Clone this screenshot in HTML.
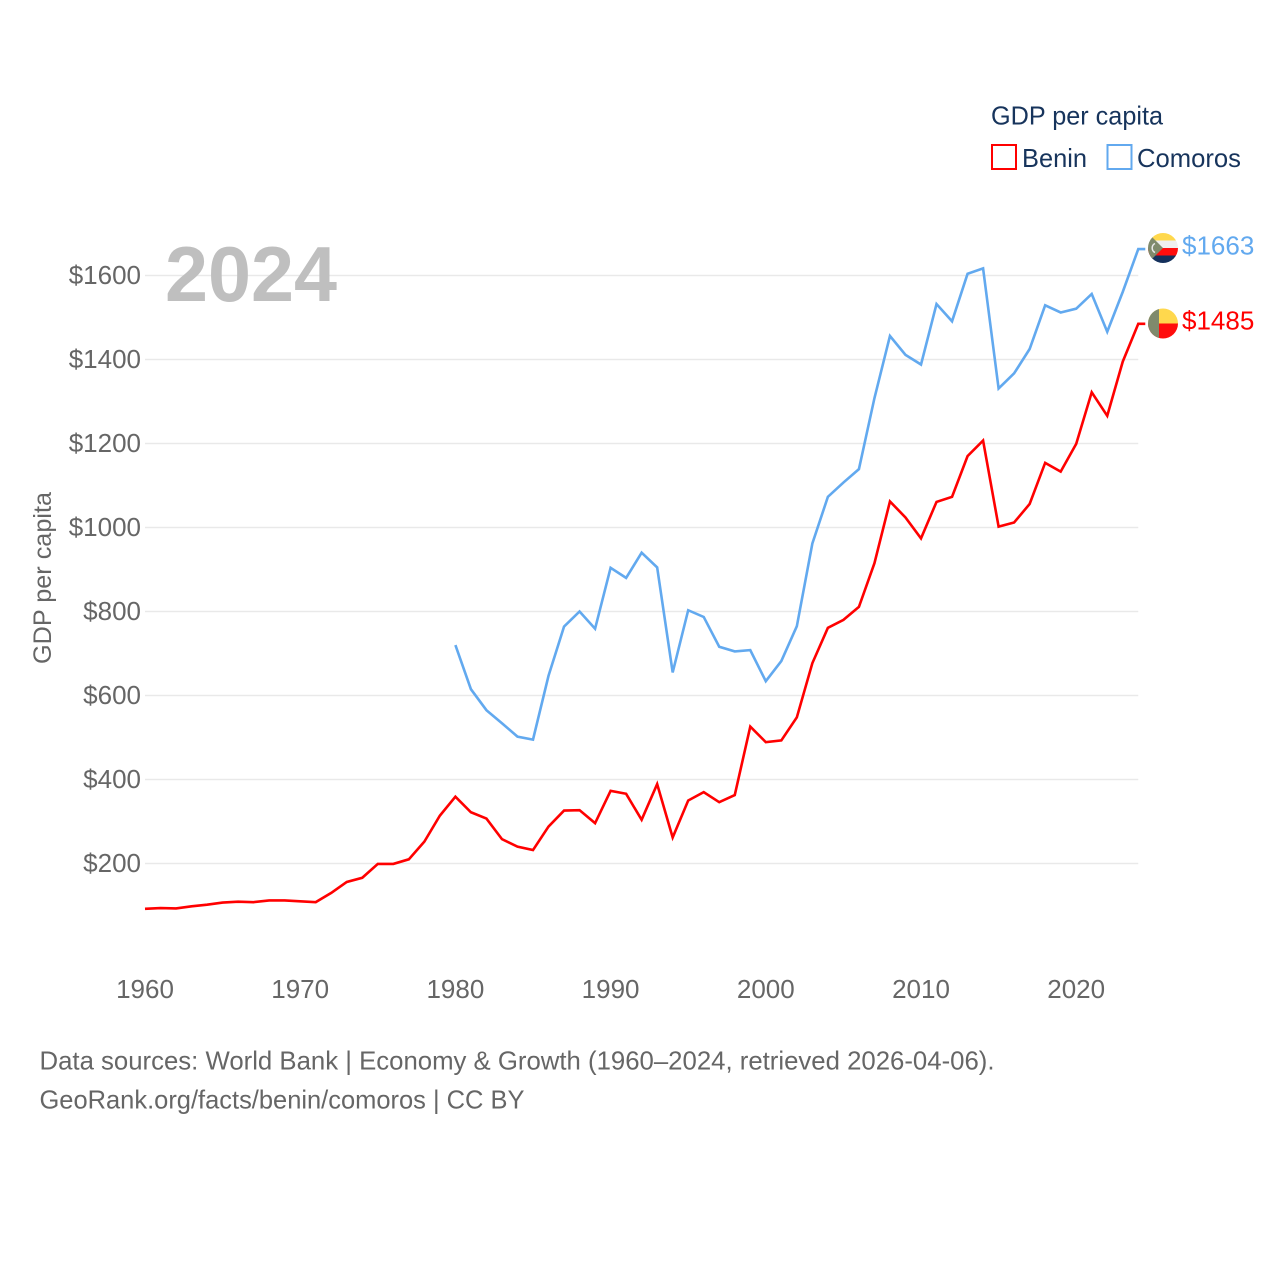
<!DOCTYPE html>
<html lang="en">
<head>
<meta charset="utf-8">
<title>GDP per capita: Benin and Comoros</title>
<style>
  html, body { margin: 0; padding: 0; background: #fff; }
  svg { display: block; }
  text { font-family: "Liberation Sans", sans-serif; }
</style>
</head>
<body>
<svg id="chart" xmlns="http://www.w3.org/2000/svg" width="1280" height="1280" viewBox="0 0 1280 1280">
  <defs>
    <clipPath id="clip-comoros"><circle cx="1163" cy="248" r="15"></circle></clipPath>
    <clipPath id="clip-benin"><circle cx="1163" cy="323.5" r="15"></circle></clipPath>
  </defs>
  <g id="grid"></g>
  <text x="165" y="301" font-size="78" font-weight="700" fill="#bfbfbf" textLength="172" lengthAdjust="spacingAndGlyphs">2024</text>
  <g id="y-ticks"></g>
  <g id="x-ticks"></g>
  <text transform="translate(51,578) rotate(-90)" text-anchor="middle" font-size="25" fill="#666666" textLength="172" lengthAdjust="spacingAndGlyphs">GDP per capita</text>
  <g id="series"></g>

  <g>
    <text x="991" y="124.500" font-size="26" fill="#17345c" textLength="172" lengthAdjust="spacingAndGlyphs">GDP per capita</text>
    <rect x="992" y="145" width="24" height="24" fill="none" stroke="#ff0000" stroke-width="2"></rect>
    <text x="1022" y="167" font-size="26" fill="#17345c" textLength="65" lengthAdjust="spacingAndGlyphs">Benin</text>
    <rect x="1107.500" y="145" width="24" height="24" fill="none" stroke="#62a9ef" stroke-width="2"></rect>
    <text x="1137" y="167" font-size="26" fill="#17345c" textLength="104" lengthAdjust="spacingAndGlyphs">Comoros</text>
  </g>

  <g clip-path="url(#clip-comoros)">
    <rect x="1148" y="233" width="30" height="7.500" fill="#ffd84d"></rect>
    <rect x="1148" y="240.500" width="30" height="7.500" fill="#efefef"></rect>
    <rect x="1148" y="248" width="30" height="7.500" fill="#ff0d0d"></rect>
    <rect x="1148" y="255.500" width="30" height="7.500" fill="#14305c"></rect>
    <polygon points="1148,233 1163,248 1148,263" fill="#7f8a6c"></polygon>
    <path d="M1155,243.500 A5,5 0 0 0 1155,252.500" fill="none" stroke="#e8e8e8" stroke-width="1.500"></path>
  </g>
  <g clip-path="url(#clip-benin)">
    <rect x="1148" y="308.500" width="30" height="15" fill="#ffd84d"></rect>
    <rect x="1148" y="323.500" width="30" height="15" fill="#ff0d0d"></rect>
    <rect x="1148" y="308.500" width="11" height="30" fill="#7f8a6c"></rect>
  </g>

  <text x="1182" y="254.500" font-size="26" fill="#62a9ef">$1663</text>
  <text x="1182" y="329.500" font-size="26" fill="#ff0000">$1485</text>

  <text x="39.500" y="1069.500" font-size="26" fill="#666666" textLength="955" lengthAdjust="spacingAndGlyphs">Data sources: World Bank | Economy &amp; Growth (1960–2024, retrieved 2026-04-06).</text>
  <text x="39.500" y="1108.500" font-size="26" fill="#666666" textLength="485" lengthAdjust="spacingAndGlyphs">GeoRank.org/facts/benin/comoros | CC BY</text>
</svg>
<script>
const beninStartYear = 1960;
const beninValues = [92,94,93,98,102,107,109,108,112,112,110,108,130,156,166,199,199,210,252,314,359,322,307,258,240,232,288,326,327,296,373,366,304,389,262,350,370,346,363,526,489,493,548,677,761,780,811,915,1062,1024,974,1061,1073,1170,1207,1002,1012,1056,1154,1133,1199,1322,1266,1395,1485];
const comorosStartYear = 1980;
const comorosValues = [720,615,565,534,502,495,647,764,800,759,904,880,940,905,655,803,787,716,705,708,634,682,765,962,1073,1107,1139,1308,1456,1411,1388,1532,1491,1604,1617,1331,1367,1425,1529,1512,1521,1556,1466,1561,1663];
const yTickValues = [200,400,600,800,1000,1200,1400,1600];
const xTickValues = [1960,1970,1980,1990,2000,2010,2020];

const NS = 'http://www.w3.org/2000/svg';
const xScale = function (year) { return 145 + (year - 1960) * 15.52; };
const yScale = function (value) { return 947.5 - value * 0.42; };

const gridLayer = document.getElementById('grid');
const yTickLayer = document.getElementById('y-ticks');
const xTickLayer = document.getElementById('x-ticks');
const seriesLayer = document.getElementById('series');

yTickValues.forEach(function (value) {
  const line = document.createElementNS(NS, 'line');
  
  
  line.setAttribute('x1', 145);
  line.setAttribute('x2', xScale(2024));
  line.setAttribute('y1', yScale(value));
  line.setAttribute('y2', yScale(value));
  line.setAttribute('stroke', '#e9e9e9');
  line.setAttribute('stroke-width', '1.5');
  gridLayer.appendChild(line);

  const label = document.createElementNS(NS, 'text');
  
  
  label.setAttribute('x', 141);
  label.setAttribute('y', yScale(value) + 8.5);
  label.setAttribute('text-anchor', 'end');
  label.setAttribute('font-size', '26');
  label.setAttribute('fill', '#666666');
  label.textContent = '$' + value;
  yTickLayer.appendChild(label);
});

xTickValues.forEach(function (year) {
  const label = document.createElementNS(NS, 'text');
  
  
  label.setAttribute('x', xScale(year));
  label.setAttribute('y', 998);
  label.setAttribute('text-anchor', 'middle');
  label.setAttribute('font-size', '26');
  label.setAttribute('fill', '#666666');
  label.textContent = String(year);
  xTickLayer.appendChild(label);
});

function buildPoints(startYear, values) {
  const points = values.map(function (value, index) {
    return xScale(startYear + index).toFixed(2) + ',' + yScale(value).toFixed(2);
  });
  const lastValue = values[values.length - 1];
  points.push((xScale(startYear + values.length - 1) + 7).toFixed(2) + ',' + yScale(lastValue).toFixed(2));
  return points.join(' ');
}

const comorosLine = document.createElementNS(NS, 'polyline');


comorosLine.setAttribute('points', buildPoints(comorosStartYear, comorosValues));
comorosLine.setAttribute('fill', 'none');
comorosLine.setAttribute('stroke', '#62a9ef');
comorosLine.setAttribute('stroke-width', '2.6');
comorosLine.setAttribute('stroke-linejoin', 'miter');
seriesLayer.appendChild(comorosLine);

const beninLine = document.createElementNS(NS, 'polyline');


beninLine.setAttribute('points', buildPoints(beninStartYear, beninValues));
beninLine.setAttribute('fill', 'none');
beninLine.setAttribute('stroke', '#ff0000');
beninLine.setAttribute('stroke-width', '2.6');
beninLine.setAttribute('stroke-linejoin', 'miter');
seriesLayer.appendChild(beninLine);
</script>
</body>
</html>
